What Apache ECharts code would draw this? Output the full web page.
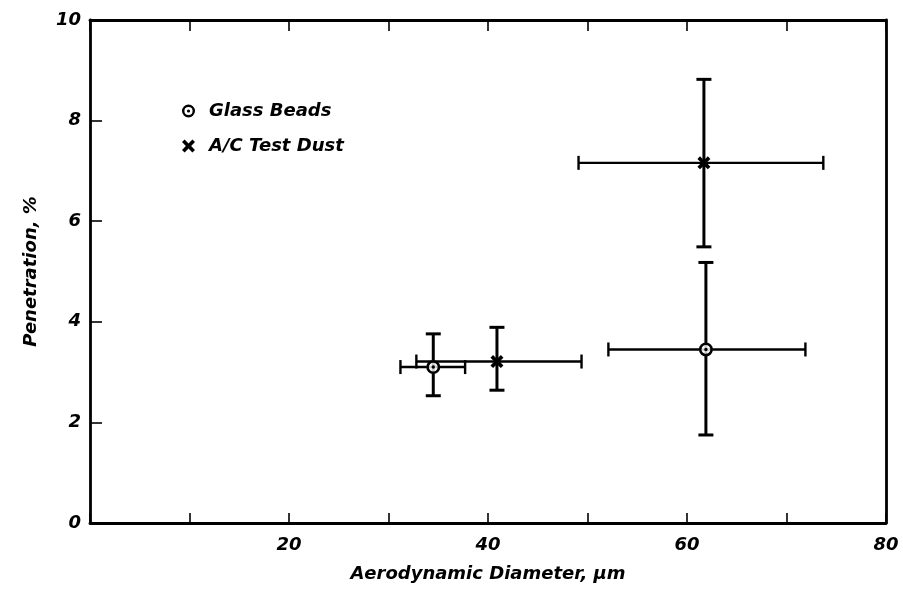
<!DOCTYPE html>
<html>
<head>
<meta charset="utf-8">
<script src="https://cdn.jsdelivr.net/npm/echarts@6/dist/echarts.min.js"></script>
<style>
html,body{margin:0;padding:0;background:#fff;}
#chart{width:903px;height:602px;}
</style>
</head>
<body>
<div id="chart"></div>
<script>
// ---- data ----
const seriesNames = ['Glass Beads', 'A/C Test Dust'];

const gbX   = [34.5, 61.9];
const gbY   = [3.10, 3.45];
const gbXLo = [31.2, 52.1];
const gbXHi = [37.7, 71.9];
const gbYLo = [2.53, 1.75];
const gbYHi = [3.76, 5.18];

const acX   = [40.9, 61.7];
const acY   = [3.21, 7.16];
const acXLo = [32.8, 49.1];
const acXHi = [49.4, 73.7];
const acYLo = [2.64, 5.49];
const acYHi = [3.89, 8.82];

const xTickLabels = [20, 40, 60, 80];
const yTickLabels = [0, 2, 4, 6, 8, 10];

// ---- build ----
function rows(x, y, xl, xh, yl, yh) {
  return x.map((v, i) => [v, y[i], xl[i], xh[i], yl[i], yh[i]]);
}
const gbRows = rows(gbX, gbY, gbXLo, gbXHi, gbYLo, gbYHi);
const acRows = rows(acX, acY, acXLo, acXHi, acYLo, acYHi);

const FONT = 'DejaVu Sans';
const txt = { color: '#000', fontFamily: FONT, fontWeight: 'bold', fontStyle: 'italic' };

const RING = 'path://M0,-7A7,7,0,1,1,0,7A7,7,0,1,1,0,-7Z' +
             'M0,-4.4A4.4,4.4,0,1,0,0,4.4A4.4,4.4,0,1,0,0,-4.4Z' +
             'M0,-1.7A1.7,1.7,0,1,1,0,1.7A1.7,1.7,0,1,1,0,-1.7Z';
const CROSS = 'path://M-6,-3.6L-3.6,-6L0,-2.4L3.6,-6L6,-3.6L2.4,0L6,3.6L3.6,6L0,2.4L-3.6,6L-6,3.6L-2.4,0Z';

function errItem(params, api) {
  const x = api.value(0), y = api.value(1);
  const xl = api.value(2), xh = api.value(3), yl = api.value(4), yh = api.value(5);
  const pL = api.coord([xl, y]), pR = api.coord([xh, y]);
  const pB = api.coord([x, yl]), pT = api.coord([x, yh]);
  const capH = 7, capW = 7.5;
  const hs = { stroke: '#000', lineWidth: 2.4 };
  const vs = { stroke: '#000', lineWidth: 3 };
  return {
    type: 'group',
    children: [
      { type: 'line', shape: { x1: pL[0], y1: pL[1], x2: pR[0], y2: pR[1] }, style: hs },
      { type: 'line', shape: { x1: pL[0], y1: pL[1] - capH, x2: pL[0], y2: pL[1] + capH }, style: hs },
      { type: 'line', shape: { x1: pR[0], y1: pR[1] - capH, x2: pR[0], y2: pR[1] + capH }, style: hs },
      { type: 'line', shape: { x1: pB[0], y1: pB[1], x2: pT[0], y2: pT[1] }, style: vs },
      { type: 'line', shape: { x1: pB[0] - capW, y1: pB[1], x2: pB[0] + capW, y2: pB[1] }, style: vs },
      { type: 'line', shape: { x1: pT[0] - capW, y1: pT[1], x2: pT[0] + capW, y2: pT[1] }, style: vs }
    ]
  };
}

const axisLine = { show: true, onZero: false, lineStyle: { color: '#000', width: 2.8 } };
const tick = (len) => ({ show: true, inside: true, length: len, lineStyle: { color: '#000', width: 1.6 } });

const option = {
  animation: false,
  backgroundColor: '#fff',
  grid: { left: 90, right: 17, top: 20, bottom: 79 },
  legend: {
    orient: 'vertical',
    left: 177,
    top: 97,
    itemGap: 17,
    itemWidth: 13,
    itemHeight: 13,
    selectedMode: false,
    textStyle: Object.assign({ fontSize: 18, padding: [0, 0, 0, 9] }, txt),
    data: [
      { name: seriesNames[0], icon: RING },
      { name: seriesNames[1], icon: CROSS }
    ]
  },
  xAxis: [
    {
      type: 'value', min: 0, max: 80, interval: 10, position: 'bottom',
      axisLine: axisLine, axisTick: tick(10), splitLine: { show: false },
      axisLabel: Object.assign({
        fontSize: 18, margin: 13,
        formatter: v => xTickLabels.indexOf(v) >= 0 ? String(v) : ''
      }, txt),
      name: 'Aerodynamic Diameter, µm', nameLocation: 'middle', nameGap: 42,
      nameTextStyle: Object.assign({ fontSize: 18 }, txt)
    },
    {
      type: 'value', min: 0, max: 80, interval: 10, position: 'top',
      axisLine: axisLine, axisTick: tick(11), splitLine: { show: false },
      axisLabel: { show: false }
    }
  ],
  yAxis: [
    {
      type: 'value', min: 0, max: 10, interval: 2, position: 'left',
      axisLine: axisLine, axisTick: tick(12), splitLine: { show: false },
      axisLabel: Object.assign({
        fontSize: 18, margin: 9,
        formatter: v => yTickLabels.indexOf(v) >= 0 ? String(v) : ''
      }, txt),
      name: 'Penetration, %', nameLocation: 'middle', nameGap: 50, nameRotate: 90,
      nameTextStyle: Object.assign({ fontSize: 18 }, txt)
    },
    {
      type: 'value', min: 0, max: 10, interval: 2, position: 'right',
      axisLine: axisLine, axisTick: { show: false }, splitLine: { show: false },
      axisLabel: { show: false }
    }
  ],
  series: [
    {
      name: 'gbErr', type: 'custom', renderItem: errItem, data: gbRows,
      encode: { x: [0, 2, 3], y: [1, 4, 5] }, z: 2, silent: true
    },
    {
      name: 'acErr', type: 'custom', renderItem: errItem, data: acRows,
      encode: { x: [0, 2, 3], y: [1, 4, 5] }, z: 2, silent: true
    },
    {
      name: 'gbFill', type: 'scatter', data: gbRows.map(r => [r[0], r[1]]),
      symbol: 'circle', symbolSize: 13, itemStyle: { color: '#fff' }, z: 3, silent: true
    },
    {
      name: seriesNames[0], type: 'scatter', data: gbRows.map(r => [r[0], r[1]]),
      symbol: RING, symbolSize: 14, symbolKeepAspect: true,
      itemStyle: { color: '#000', opacity: 1 }, z: 4
    },
    {
      name: seriesNames[1], type: 'scatter', data: acRows.map(r => [r[0], r[1]]),
      symbol: CROSS, symbolSize: 13, symbolKeepAspect: true,
      itemStyle: { color: '#000', opacity: 1 }, z: 4
    }
  ]
};

const chart = echarts.init(document.getElementById('chart'), null, { renderer: 'canvas' });
chart.setOption(option);
</script>
</body>
</html>
